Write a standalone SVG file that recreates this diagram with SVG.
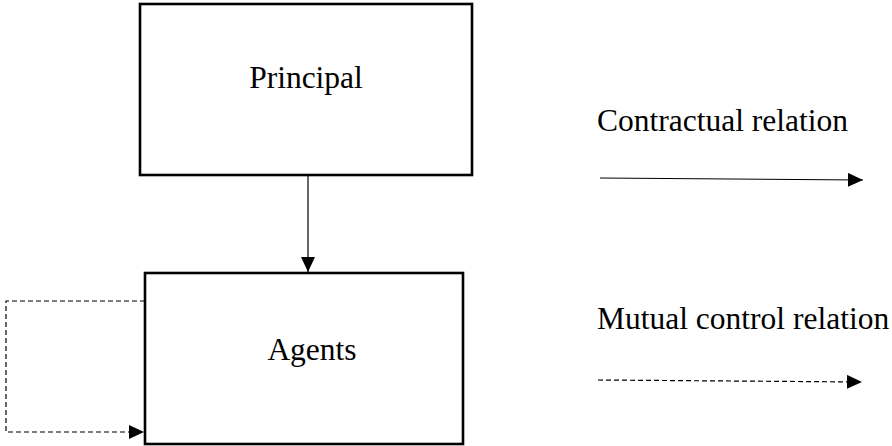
<svg xmlns="http://www.w3.org/2000/svg" width="892" height="446" viewBox="0 0 892 446">
<style>
.box{fill:#fff;stroke:#000;stroke-width:2.6}
.t{font-family:"Liberation Serif","Times New Roman",serif;font-size:31.5px;fill:#000}
.ln{stroke:#000;stroke-width:1.2;fill:none}
.dash{stroke-dasharray:5,3}
</style>
<defs>
<marker id="ah" markerWidth="15" markerHeight="14" refX="15" refY="7" orient="auto" markerUnits="userSpaceOnUse">
<path d="M0,0 L15,7 L0,14 Z" fill="#000"/>
</marker>
</defs>
<rect width="892" height="446" fill="#fff"/>
<g id="principal">
<rect class="box" x="140" y="4" width="332" height="171"/>
<text class="t" x="306" y="88" text-anchor="middle">Principal</text>
</g>
<g id="agents">
<rect class="box" x="145" y="273" width="318" height="171"/>
<text class="t" x="312" y="360" text-anchor="middle">Agents</text>
</g>
<g id="legend">
<text class="t" x="597" y="131">Contractual relation</text>
<text class="t" x="597" y="329">Mutual control relation</text>
</g>
<g id="connectors">
<line class="ln" x1="308" y1="175" x2="308" y2="272" marker-end="url(#ah)"/>
<polyline class="ln dash" points="145,301 6,301 6,432 144,432" marker-end="url(#ah)"/>
<line class="ln" x1="600" y1="178" x2="863" y2="180" marker-end="url(#ah)"/>
<line class="ln dash" x1="598" y1="380" x2="862" y2="382" marker-end="url(#ah)"/>
</g>
</svg>
